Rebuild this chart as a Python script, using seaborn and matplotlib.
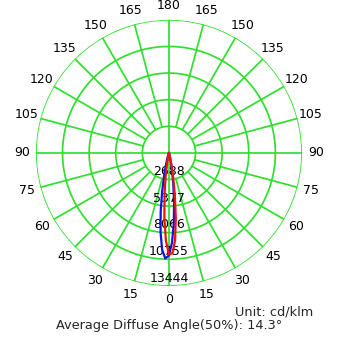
import numpy as np
import pandas as pd
import matplotlib
matplotlib.use("Agg")
import matplotlib.pyplot as plt
import seaborn as sns

# Luminous intensity distribution (cd/klm), angle measured from nadir
angles_deg = [-24, -22, -20, -18, -16, -14, -12, -10, -8, -6, -4, -2, 0,
              2, 4, 6, 8, 10, 12, 14, 16, 18, 20, 22, 24]
c90_values = [10, 34, 98, 257, 600, 1257, 2362, 3973, 5994, 8105, 9822, 10664, 10375,
              9046, 7068, 4949, 3104, 1745, 879, 397, 160, 58, 19, 5, 0]
c0_values = [0, 1, 3, 14, 53, 171, 476, 1144, 2377, 4267, 6617, 8865, 10261,
             10150, 8865, 6617, 4267, 2377, 1144, 476, 171, 53, 14, 3, 1]

ring_values = [2688, 5377, 8066, 10755, 13444]
ring_labels = ["2688", "5377", "8066", "10755", "13444"]
spoke_angles = list(range(0, 360, 15))
angle_label_values = [0, 15, 30, 45, 60, 75, 90, 105, 120, 135, 150, 165, 180]

unit_text = "Unit: cd/klm"
beam_text = "Average Diffuse Angle(50%): 14.3°"

GRID = "#2ee02e"
sns.set_style("white")
plt.rcParams["font.family"] = ["DejaVu Sans"]

fig = plt.figure(figsize=(3.42, 3.42), dpi=100)
ax = fig.add_axes([0.105, 0.164, 0.778, 0.778], projection="polar")
ax.set_theta_zero_location("S")
ax.set_theta_direction(1)
rmax = ring_values[-1]
ax.set_ylim(0, rmax)
ax.grid(False)
ax.spines["polar"].set_visible(False)
ax.patch.set_alpha(0)

# Concentric rings
full = np.linspace(0, 2 * np.pi, 361)
for v in ring_values:
    ax.plot(full, np.full_like(full, v), color=GRID, lw=1.25, zorder=1)

# Radial spokes: main axes cross the centre, others start at first ring
for a in spoke_angles:
    t = np.deg2rad(a)
    r0 = 0 if a % 90 == 0 else ring_values[0]
    ax.plot([t, t], [r0, rmax], color=GRID, lw=1.25, zorder=1)

# Angle labels on both sides
for a in angle_label_values:
    rl = rmax * 1.105
    sides = [a] if a in (0, 180) else [a, -a]
    for s in sides:
        ax.text(np.deg2rad(s), rl, str(a), ha="center", va="center",
                fontsize=9, color="black", clip_on=False)

# Ring value labels along the nadir axis
for v, lab in zip(ring_values, ring_labels):
    ax.text(0, v - 0.29 * ring_values[0], lab, ha="center", va="center",
            fontsize=9, color="black", zorder=2)

df = pd.DataFrame({
    "theta": np.deg2rad(angles_deg),
    "C90": c90_values,
    "C0": c0_values,
})
sns.lineplot(data=df, x="theta", y="C90", ax=ax, color="#1010e0", lw=1.6,
             sort=False, zorder=3)
sns.lineplot(data=df, x="theta", y="C0", ax=ax, color="#ee1111", lw=1.6,
             sort=False, zorder=4)
ax.set_xlabel("")
ax.set_ylabel("")
ax.set_xticks([])
ax.set_yticks([])

fig.text(313 / 342, 1 - 312 / 342, unit_text, ha="right", va="center", fontsize=9.3)
fig.text(169 / 342, 1 - 326 / 342, beam_text, ha="center", va="center", fontsize=9.3)

fig.savefig("out.png", dpi=100, facecolor="white")
